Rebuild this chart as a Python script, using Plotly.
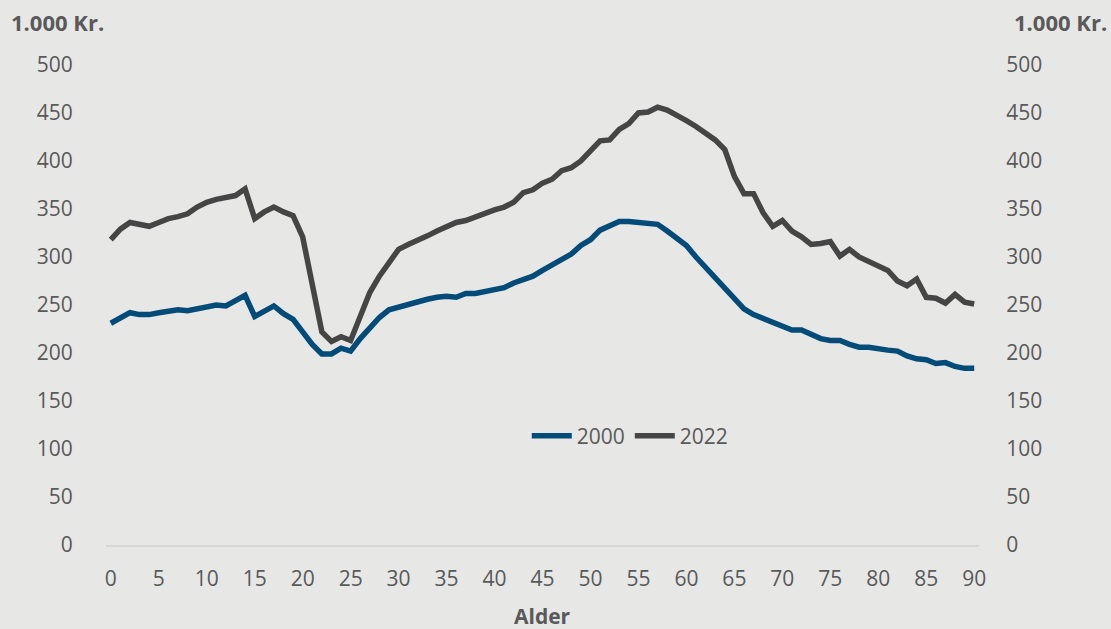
import plotly.graph_objects as go

ages = list(range(0, 91))

income_2000 = [231, 237, 242, 240, 240, 242, 243, 245, 244, 246,
               247, 250, 249, 254, 260, 238, 244, 249, 241, 235,
               222, 209, 199, 199, 205, 202, 215, 227, 237, 245,
               248, 251, 254, 256, 258, 259, 258, 262, 262, 264,
               265, 268, 273, 277, 280, 286, 292, 297, 303, 312,
               318, 328, 333, 337, 337, 336, 334, 334, 327, 319,
               312, 300, 289, 280, 268, 256, 246, 240, 236, 232,
               228, 224, 224, 220, 215, 213, 213, 209, 206, 206,
               204, 203, 202, 197, 194, 193, 189, 190, 186, 184,
               184]

income_2022 = [318, 329, 336, 334, 332, 336, 340, 342, 345, 352,
               357, 360, 362, 364, 371, 340, 347, 352, 347, 343,
               321, 273, 222, 212, 217, 213, 240, 263, 280, 295,
               308, 313, 317, 322, 327, 331, 336, 338, 342, 346,
               349, 352, 357, 367, 370, 377, 381, 390, 393, 400,
               410, 421, 422, 433, 439, 450, 451, 456, 453, 448,
               442, 436, 429, 422, 412, 384, 366, 366, 346, 332,
               338, 327, 321, 313, 314, 316, 301, 308, 300, 295,
               291, 286, 275, 270, 277, 258, 257, 252, 261, 253,
               251]

series_names = ["2000", "2022"]
x_ticks = list(range(0, 91, 5))
y_ticks = list(range(0, 501, 50))
y_title = "1.000 Kr."
x_title = "Alder"

FONT = "Open Sans"
TXT = "#595959"
BG = "#e7e7e6"

fig = go.Figure()
fig.add_trace(go.Scatter(x=ages, y=income_2000, name=series_names[0], mode="lines",
                         line=dict(color="#004b78", width=5.5)))
fig.add_trace(go.Scatter(x=ages, y=income_2022, name=series_names[1], mode="lines",
                         line=dict(color="#454545", width=5.5)))
# invisible trace for right axis
fig.add_trace(go.Scatter(x=[ages[0]], y=[y_ticks[0]], yaxis="y2", mode="lines",
                         showlegend=False, hoverinfo="skip", line=dict(width=0)))

fig.update_layout(
    width=1111, height=629,
    paper_bgcolor=BG, plot_bgcolor=BG,
    margin=dict(l=106, r=132, t=65, b=84),
    font=dict(family=FONT, size=21, color=TXT),
    xaxis=dict(range=[-0.5, 90.5], tickmode="array", tickvals=x_ticks,
               showgrid=False, zeroline=False, showline=True,
               linecolor="#d6d6d4", linewidth=1.5,
               ticks="outside", ticklen=14, tickcolor="rgba(0,0,0,0)",
               tickfont=dict(size=21, color=TXT)),
    yaxis=dict(range=[0, 500], tickmode="array", tickvals=y_ticks,
               showgrid=False, zeroline=False, showline=False,
               ticks="outside", ticklen=28, tickcolor="rgba(0,0,0,0)",
               tickfont=dict(size=21, color=TXT)),
    yaxis2=dict(range=[0, 500], tickmode="array", tickvals=y_ticks,
                overlaying="y", side="right",
                showgrid=False, zeroline=False, showline=False,
                ticks="outside", ticklen=22, tickcolor="rgba(0,0,0,0)",
                tickfont=dict(size=21, color=TXT)),
    legend=dict(orientation="h", x=0.482, y=0.227, xanchor="left", yanchor="middle",
                bgcolor="rgba(0,0,0,0)", font=dict(size=21, color=TXT),
                itemwidth=40, tracegroupgap=0),
    showlegend=True,
)

fig.add_annotation(text="<b>%s</b>" % y_title, xref="paper", yref="paper",
                   x=0, y=1, xshift=-97, yshift=43, xanchor="left", yanchor="middle",
                   showarrow=False, font=dict(size=22, color=TXT, family=FONT))
fig.add_annotation(text="<b>%s</b>" % y_title, xref="paper", yref="paper",
                   x=1, y=1, xshift=33, yshift=43, xanchor="left", yanchor="middle",
                   showarrow=False, font=dict(size=22, color=TXT, family=FONT))
fig.add_annotation(text="<b>%s</b>" % x_title, xref="paper", yref="paper",
                   x=(542 - 106) / (979 - 106), y=0, yshift=-71, xanchor="center", yanchor="middle",
                   showarrow=False, font=dict(size=21, color=TXT, family=FONT))

fig.write_html("out.html", config={"displayModeBar": False},
               post_script="document.body.style.margin='0';document.body.style.background='%s';" % BG)
